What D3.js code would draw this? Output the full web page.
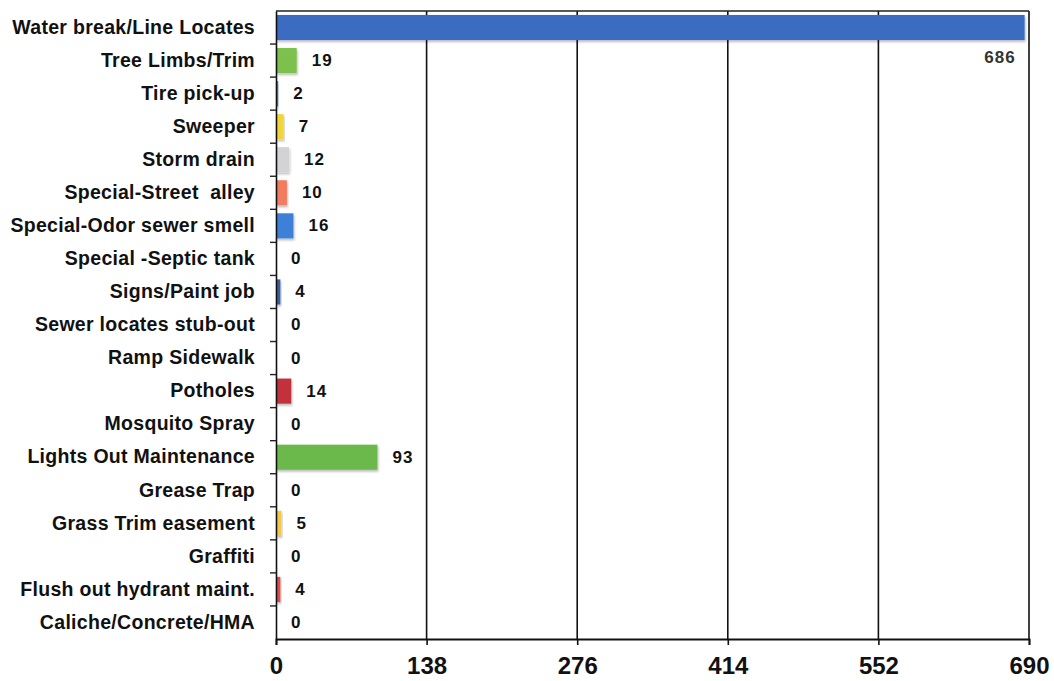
<!DOCTYPE html>
<html>
<head>
<meta charset="utf-8">
<script src="https://cdn.jsdelivr.net/npm/d3@7"></script>
<style>
html,body{margin:0;padding:0;background:#fff;}
svg{display:block;}
svg text{white-space:pre;}
</style>
</head>
<body>
<svg id="chart" width="1054" height="681"></svg>
<script>
const categories = [
  "Water break/Line Locates","Tree Limbs/Trim","Tire pick-up","Sweeper","Storm drain",
  "Special-Street  alley","Special-Odor sewer smell","Special -Septic tank","Signs/Paint job",
  "Sewer locates stub-out","Ramp Sidewalk","Potholes","Mosquito Spray","Lights Out Maintenance",
  "Grease Trap","Grass Trim easement","Graffiti","Flush out hydrant maint.","Caliche/Concrete/HMA"
];
const values = [686,19,2,7,12,10,16,0,4,0,0,14,0,93,0,5,0,4,0];
const palette = [
  "#3a6cc2","#7cc14d","#4a80c8","#f3d538","#d3d3d5","#f27b5f","#3d80d8","#3d80d8","#3b5e9e",
  "#3b5e9e","#3b5e9e","#c3303a","#c3303a","#6cb94b","#6cb94b","#f5c84c","#f5c84c","#e14b4b","#e14b4b"
];
const xTicks = [0,138,276,414,552,690];

const svg = d3.select("#chart");
const m = {left:276, right:1029, top:11, bottom:639};
const x = d3.scaleLinear().domain([0,690]).range([m.left, m.right]);
const y = d3.scaleBand().domain(categories).range([m.top, m.bottom]).paddingInner(0.24).paddingOuter(0.12);

const font = "'Liberation Sans', Arial, sans-serif";

// gridlines
svg.append("g").selectAll("line").data(xTicks.slice(1)).join("line")
  .attr("x1", d=>x(d)).attr("x2", d=>x(d))
  .attr("y1", m.top).attr("y2", m.bottom)
  .attr("stroke", "#111").attr("stroke-width", 1.6);
// top border
svg.append("line").attr("x1", m.left).attr("x2", m.right).attr("y1", m.top).attr("y2", m.top)
  .attr("stroke", "#222").attr("stroke-width", 1.4);

// bars
const defs = svg.append("defs");
const f = defs.append("filter").attr("id","sh").attr("x","-5%").attr("y","-20%").attr("width","120%").attr("height","160%");
f.append("feDropShadow").attr("dx",1).attr("dy",2).attr("stdDeviation",1.2).attr("flood-color","#000").attr("flood-opacity",0.25);

svg.append("g").selectAll("rect").data(categories).join("rect")
  .attr("x", x(0))
  .attr("y", d=>y(d))
  .attr("width", (d,i)=>Math.max(0, x(values[i]) - x(0)))
  .attr("height", y.bandwidth())
  .attr("fill", (d,i)=>palette[i])
  .attr("filter","url(#sh)");

// value labels
svg.append("g").selectAll("text").data(categories).join("text")
  .attr("x", (d,i)=> values[i] > 600 ? x(values[i]) - 9 : x(values[i]) + 15)
  .attr("y", (d,i)=> values[i] > 600 ? y(d) + y.bandwidth()/2 + 31 : y(d) + y.bandwidth()/2 + 1)
  .attr("text-anchor", (d,i)=> values[i] > 600 ? "end" : "start")
  .attr("dominant-baseline","middle")
  .attr("font-family", font).attr("font-weight","bold").attr("font-size", 17)
  .attr("letter-spacing", 1)
  .attr("fill", (d,i)=> values[i] > 600 ? "#333" : "#111")
  .text((d,i)=>values[i]);

// y axis
const yAxis = svg.append("g").attr("transform", `translate(${m.left},0)`)
  .call(d3.axisLeft(y).tickSize(0).tickPadding(21));
yAxis.select(".domain").attr("stroke","#111").attr("stroke-width",1.6);
yAxis.selectAll("text").attr("font-family", font).attr("font-weight","bold")
  .attr("font-size", 19.5).attr("letter-spacing", 0.3).attr("fill","#111");
// boundary ticks between categories
const bounds = categories.slice(1).map(c => y(c) - y.step()*y.paddingInner()/2);
svg.append("g").selectAll("line").data(bounds).join("line")
  .attr("x1", m.left - 6).attr("x2", m.left).attr("y1", d=>d).attr("y2", d=>d)
  .attr("stroke","#222").attr("stroke-width",1.4);

// x axis
const xAxis = svg.append("g").attr("transform", `translate(0,${m.bottom})`)
  .call(d3.axisBottom(x).tickValues(xTicks).tickSize(6).tickPadding(12).tickFormat(d3.format("d")));
xAxis.select(".domain").attr("stroke","#111").attr("stroke-width",1.8);
xAxis.selectAll(".tick line").attr("stroke","#111").attr("stroke-width",1.6);
xAxis.selectAll("text").attr("font-family", font).attr("font-weight","bold")
  .attr("font-size", 24).attr("fill","#111");
</script>
</body>
</html>
